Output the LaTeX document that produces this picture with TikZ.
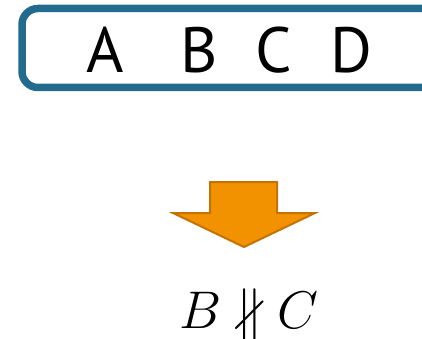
\RequirePackage{fix-cm}
\documentclass[tikz,border=0pt]{standalone}
\usepackage{amssymb}
\usepackage{fontspec}
\newfontfamily\boxfont{PT Sans}
\definecolor{boxblue}{HTML}{236B8E}
\definecolor{arrfill}{HTML}{F39200}
\definecolor{arrdraw}{HTML}{C47300}
\begin{document}
\begin{tikzpicture}[x=1pt,y=-1pt,
  letter/.style={anchor=base,inner sep=0pt,font=\boxfont\fontsize{64}{70}\selectfont},
  mathlbl/.style={anchor=base,inner sep=0pt,font=\fontsize{53}{60}\selectfont}]
\useasboundingbox (0,0) rectangle (422,339);
\begin{scope}
\clip (0,0) rectangle (422,339);
\draw[boxblue,line width=7.5pt,rounded corners=16pt] (22,8.5) rectangle (460,87.5);
\end{scope}
\node[letter] (a) at (105.5,73) {A};
\node[letter] (b) at (199,73) {B};
\node[letter] (c) at (274,73) {C};
\node[letter] (d) at (351.5,73) {D};
\draw[arrdraw,fill=arrfill,line width=2pt,line join=miter]
  (210,182) -- (277,182) -- (277,213) -- (315,213) -- (244,247) -- (173,213) -- (210,213) -- cycle;
\node[mathlbl] (res) at (249,328) {$B\nparallel C$};
\end{tikzpicture}
\end{document}
